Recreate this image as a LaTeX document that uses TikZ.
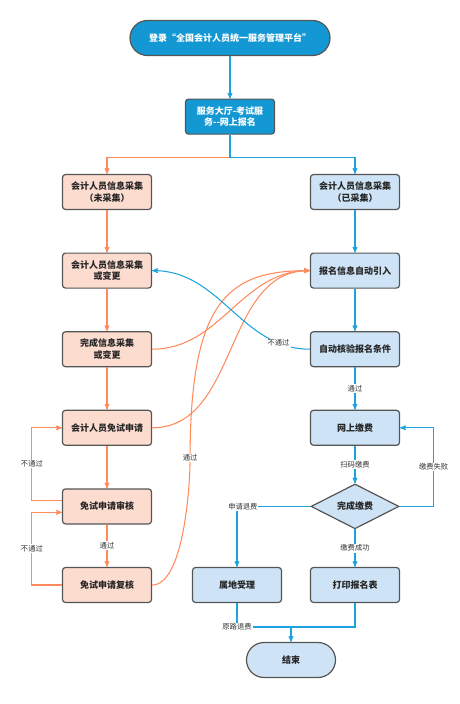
\documentclass[tikz,border=0pt]{standalone}
\usepackage{fontspec}
\setmainfont{Noto Sans CJK SC}
\usetikzlibrary{shapes.geometric}
\usetikzlibrary{arrows}

\definecolor{deepblue}{RGB}{20,152,212}
\definecolor{paleblue}{RGB}{206,228,246}
\definecolor{palepink}{RGB}{253,220,208}
\definecolor{coral}{RGB}{255,138,92}
\definecolor{skyline}{RGB}{28,163,222}
\definecolor{rim}{RGB}{85,85,85}

\begin{document}
\begin{tikzpicture}[x=1pt,y=-1pt,>=stealth',line width=1.05pt,node distance=78.6pt,
	box/.style={rectangle,rounded corners=3pt,draw=rim,line width=1.2pt,minimum width=89pt,
		minimum height=35pt,inner sep=2pt,align=center,text=black!85,
		font=\fontsize{9}{11.5}\selectfont\bfseries},
	pink node/.style={box,fill=palepink},
	pale node/.style={box,fill=paleblue},
	dark node/.style={box,fill=deepblue,text=white},
	term node/.style={rounded corners=17.5pt},
	choice node/.style={diamond,draw=rim,line width=1.2pt,fill=paleblue,minimum width=88pt,
		minimum height=35pt,inner sep=0pt,text=black!85,font=\fontsize{9}{11.5}\selectfont\bfseries},
	lbl/.style={fill=white,inner sep=1pt,text=black!80,font=\fontsize{7.3}{8}\selectfont}]
	
	\useasboundingbox (0,0) rectangle (460,704);
	
	\node[dark node, term node, minimum width=200pt] (start) at (230,38) {登录“全国会计人员统一服务管理平台”};
	\node[dark node] (serv) [below of=start] {服务大厅-考试服\\务{-}{-}网上报名};
	
	\node[pink node] (unc) at (107,192) {会计人员信息采集\\（未采集）};
	\node[pink node] (upd) [below of=unc] {会计人员信息采集\\或变更};
	\node[pink node] (done) [below of=upd] {完成信息采集\\或变更};
	\node[pink node] (apply) [below of=done] {会计人员免试申请};
	\node[pink node] (check) [below of=apply] {免试申请审核};
	\node[pink node] (recheck) [below of=check] {免试申请复核};
	
	\node[pale node] (col) at (355,192) {会计人员信息采集\\（已采集）};
	\node[pale node] (imp) [below of=col] {报名信息自动引入};
	\node[pale node] (ver) [below of=imp] {自动核验报名条件};
	\node[pale node] (pay) [below of=ver] {网上缴费};
	\node[choice node] (fin) [below of=pay] {完成缴费};
	\node[pale node] (print) [below of=fin] {打印报名表};
	\node[pale node] (local) at (237,585) {属地受理};
	\node[pale node, term node] (end) at (291,660) {结束};
	\coordinate (merge) at (291,627);
	
	% top
	\draw[->,skyline] (start) -- (serv);
	\draw[->,coral] (serv.south) -- ++(0,23) -| (unc.north);
	\draw[->,skyline] (serv.south) -- ++(0,23) -| (col.north);
	
	% left column
	\path[->,coral]
	(unc) edge (upd)
	(upd) edge (done)
	(done) edge (apply)
	(apply) edge (check)
	(check) edge node[lbl] {通过} (recheck);
	\draw[->,coral] ([yshift=6pt]check.west) -- ++(-30,0) |- node[lbl,pos=0.25] {不通过} (apply.west);
	\draw[->,coral] (recheck.west) -- ++(-30,0) |- node[lbl,pos=0.25] {不通过} ([yshift=-6pt]check.west);
	\draw[->,coral] (done.east) to[out=0,in=180] (imp.west);
	\draw[->,coral] (apply.east) to[out=0,in=180] (imp.west);
	\draw[->,coral] (recheck.east) to[out=0,in=270,looseness=0.6] ++(38,-127) node[lbl] {通过}
	.. controls +(0,-160) and +(-80,0) .. (imp.west);
	
	% right column
	\path[->,skyline]
	(col) edge (imp)
	(imp) edge (ver)
	(ver) edge node[lbl] {通过} (pay)
	(pay) edge node[lbl] {扫码缴费} (fin)
	(fin) edge node[lbl] {缴费成功} (print);
	\draw[->,skyline] (ver.west) to[out=180,in=0] node[lbl,pos=0.17] {不通过} (upd.east);
	\draw[->,skyline] (fin.east) -- ++(34,0) |- node[lbl,pos=0.25] {缴费失败} (pay.east);
	\draw[->,skyline] (fin.west) -| node[lbl,pos=0.46] {申请退费} (local.north);
	\draw[skyline] (local.south) |- node[lbl,pos=0.5] {原路退费} (merge);
	\draw[skyline] (print.south) |- (merge);
	\draw[->,skyline] (merge) -- (end.north);
\end{tikzpicture}
\end{document}
